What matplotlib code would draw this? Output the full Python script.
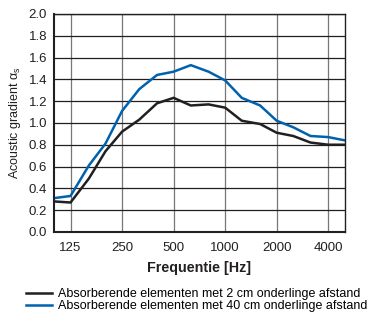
import numpy as np
import matplotlib.pyplot as plt
from matplotlib.ticker import FixedLocator, NullLocator

plt.rcParams['font.family'] = ['Liberation Sans', 'DejaVu Sans']
plt.rcParams['mathtext.fontset'] = 'custom'
plt.rcParams['mathtext.rm'] = 'Liberation Sans'
plt.rcParams['mathtext.it'] = 'Liberation Sans'

# 1/3 octave bands
freq = [100, 125, 160, 200, 250, 315, 400, 500, 630, 800, 1000, 1250, 1600, 2000, 2500, 3150, 4000, 5000]
alpha_2cm = [0.28, 0.27, 0.49, 0.74, 0.92, 1.03, 1.18, 1.23, 1.16, 1.17, 1.14, 1.02, 0.99, 0.91, 0.88, 0.82, 0.80, 0.80]
alpha_40cm = [0.31, 0.33, 0.61, 0.81, 1.11, 1.31, 1.44, 1.47, 1.53, 1.47, 1.39, 1.23, 1.16, 1.02, 0.96, 0.88, 0.87, 0.84]
xticks = [125, 250, 500, 1000, 2000, 4000]
labels = ['Absorberende elementen met 2 cm onderlinge afstand',
          'Absorberende elementen met 40 cm onderlinge afstand']

fig = plt.figure(figsize=(3.72, 3.16), dpi=100)
ax = fig.add_axes([0.145, 0.266, 0.782, 0.69])

l1, = ax.plot(freq, alpha_2cm, color='#231f20', lw=1.8, solid_joinstyle='miter')
l2, = ax.plot(freq, alpha_40cm, color='#0062ae', lw=1.8, solid_joinstyle='miter')

ax.set_xscale('log')
ax.set_xlim(100, 5000)
ax.set_ylim(0, 2.0)
ax.xaxis.set_major_locator(FixedLocator(xticks))
ax.xaxis.set_minor_locator(NullLocator())
ax.set_xticklabels([str(t) for t in xticks])
ax.set_yticks(np.arange(0, 2.01, 0.2))
ax.set_yticklabels(['%.1f' % v for v in np.arange(0, 2.01, 0.2)])
ax.tick_params(length=0, labelsize=9.5, colors='#231f20', pad=5)
ax.tick_params(axis='x', pad=7)

ax.grid(axis='y', color='#231f20', lw=0.9)
ax.grid(axis='x', color='#777777', lw=0.9)
ax.set_axisbelow(True)
for s in ax.spines.values():
    s.set_color('#231f20')
    s.set_linewidth(1.0)
ax.spines['left'].set_linewidth(1.5)
ax.spines['bottom'].set_linewidth(1.5)

ax.set_xlabel('Frequentie [Hz]', fontsize=10.3, fontweight='bold', color='#231f20', labelpad=5)
ax.set_ylabel(r'Acoustic gradient $\alpha_s$', fontsize=9, color='#231f20', labelpad=4)

fig.legend([l1, l2], labels, loc='upper left', bbox_to_anchor=(0.07, 0.088),
           frameon=False, fontsize=9, handlelength=2.05, handletextpad=0.48,
           labelspacing=0.0, borderaxespad=0, borderpad=0)

fig.savefig('out.png', dpi=100)
